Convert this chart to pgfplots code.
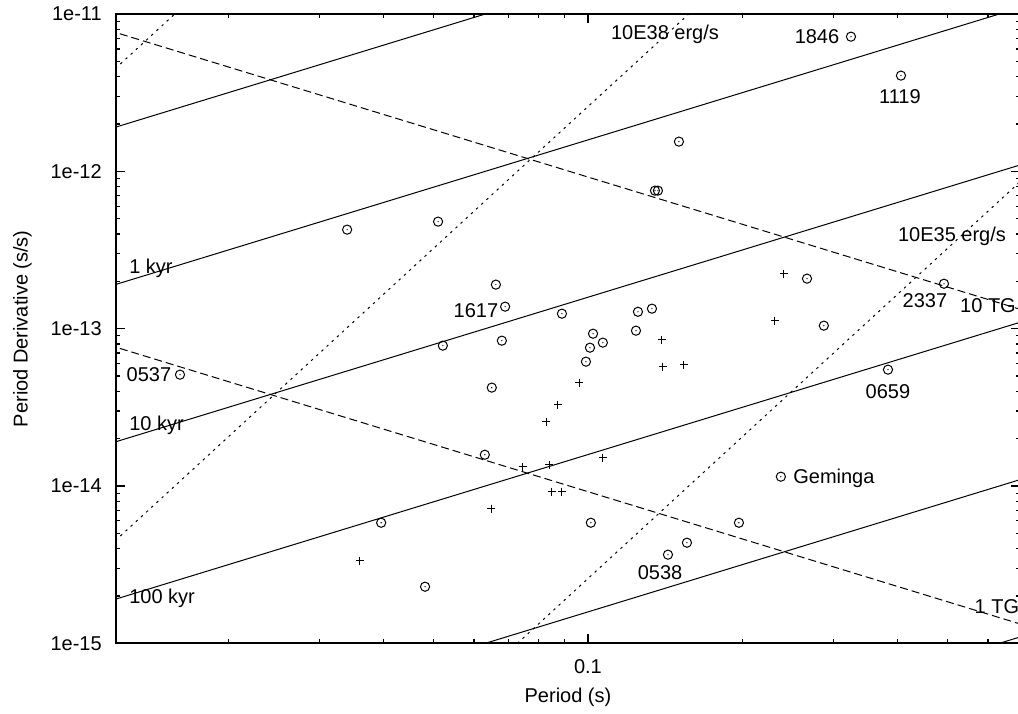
\documentclass[border=0pt]{standalone}
\usepackage{pgfplots}
\pgfplotsset{compat=1.18}
\usepackage{fontspec}
\setmainfont{Liberation Sans}

\pgfdeclareplotmark{odot}{%
  \pgfpathcircle{\pgfpointorigin}{\pgfplotmarksize}\pgfusepathqstroke
  \pgfpathcircle{\pgfpointorigin}{0.35pt}\pgfusepathqfill}

\tikzset{lab/.style={inner sep=0pt, text height=7.2pt, text depth=0pt, font=\fontsize{10}{12}\selectfont}}

\begin{document}
\begin{tikzpicture}
\begin{axis}[
  xmode=log, ymode=log,
  scale only axis, width=452pt, height=314.65pt,
  xmin=0.01207, xmax=0.6927, ymin=1e-15, ymax=1e-11,
  xtick={0.1}, xticklabels={0.1},
  minor xtick={0.02,0.03,0.04,0.05,0.06,0.07,0.08,0.09,0.2,0.3,0.4,0.5,0.6},
  ytick={1e-15,1e-14,1e-13,1e-12,1e-11},
  yticklabels={1e-15,1e-14,1e-13,1e-12,1e-11},
  minor ytick={2e-15,3e-15,4e-15,5e-15,6e-15,7e-15,8e-15,9e-15,
               2e-14,3e-14,4e-14,5e-14,6e-14,7e-14,8e-14,9e-14,
               2e-13,3e-13,4e-13,5e-13,6e-13,7e-13,8e-13,9e-13,
               2e-12,3e-12,4e-12,5e-12,6e-12,7e-12,8e-12,9e-12},
  major tick length=4.5pt, minor tick length=2pt,
  tick style={black, line width=0.6pt},
  axis line style={line width=1pt},
  xlabel={Period (s)}, ylabel={Period Derivative (s/s)},
  xlabel style={at={(axis description cs:0.5,-0.0853)}, anchor=center},
  ylabel style={at={(axis description cs:-0.1034,0.5)}, anchor=center},
  xticklabel style={yshift=-4.5pt},
  yticklabel style={xshift=-3.6pt},
  clip=true,
]
% characteristic age lines (solid)
\addplot[black, line width=0.5pt] coordinates {(0.01,1.584e-12) (1,1.584e-10)};
\addplot[black, line width=0.5pt] coordinates {(0.01,1.584e-13) (1,1.584e-11)};
\addplot[black, line width=0.5pt] coordinates {(0.01,1.584e-14) (1,1.584e-12)};
\addplot[black, line width=0.5pt] coordinates {(0.01,1.584e-15) (1,1.584e-13)};
\addplot[black, line width=0.5pt] coordinates {(0.01,1.584e-16) (1,1.584e-14)};
\addplot[black, line width=0.5pt] coordinates {(0.01,1.584e-17) (1,1.584e-15)};
% magnetic field lines (dashed)
\addplot[black, line width=0.5pt, dash pattern=on 4pt off 2pt] coordinates {(0.01,9.2e-12) (1,9.2e-14)};
\addplot[black, line width=0.5pt, dash pattern=on 4pt off 2pt] coordinates {(0.01,9.2e-14) (1,9.2e-16)};
% spin-down luminosity lines (dotted)
\addplot[black, line width=0.5pt, dash pattern=on 1.2pt off 2.3pt] coordinates {(0.01,2.58e-12) (0.1,2.58e-9)};
\addplot[black, line width=0.5pt, dash pattern=on 1.2pt off 2.3pt] coordinates {(0.01,2.58e-15) (1,2.58e-9)};
\addplot[black, line width=0.5pt, dash pattern=on 1.2pt off 2.3pt] coordinates {(0.01,2.58e-18) (1,2.58e-12)};
% pulsars (circles)
\addplot[only marks, mark=odot, mark size=2.3pt, mark options={line width=0.5pt}] coordinates {
(0.0340,4.26e-13) (0.0511,4.79e-13) (0.1503,1.545e-12) (0.1350,7.54e-13) (0.1368,7.54e-13)
(0.3249,7.18e-12) (0.4064,4.06e-12) (0.01608,5.10e-14) (0.0662,1.905e-13) (0.0690,1.38e-13)
(0.0890,1.245e-13) (0.0522,7.80e-14) (0.0680,8.39e-14) (0.1023,9.29e-14) (0.1009,7.57e-14)
(0.1069,8.15e-14) (0.0991,6.17e-14) (0.1251,1.28e-13) (0.1332,1.34e-13) (0.1240,9.71e-14)
(0.0650,4.22e-14) (0.0630,1.58e-14) (0.2668,2.08e-13) (0.2877,1.045e-13) (0.4928,1.93e-13)
(0.3835,5.49e-14) (0.2373,1.146e-14) (0.1967,5.84e-15) (0.1558,4.36e-15) (0.1431,3.66e-15)
(0.0396,5.84e-15) (0.1013,5.84e-15) (0.0482,2.29e-15)
};
% pulsars (crosses)
\addplot[only marks, mark=+, mark size=2pt, mark options={line width=0.5pt}] coordinates {
(0.1393,8.51e-14) (0.1399,5.73e-14) (0.1537,5.90e-14) (0.2405,2.24e-13) (0.2311,1.124e-13)
(0.0961,4.54e-14) (0.0874,3.29e-14) (0.0829,2.56e-14) (0.1069,1.513e-14) (0.0747,1.327e-14)
(0.0840,1.366e-14) (0.0851,9.20e-15) (0.0890,9.20e-15) (0.0648,7.17e-15) (0.0360,3.35e-15)
};
% labels
\node[lab] at (axis cs:0.2790,7.18e-12) {1846};
\node[lab] at (axis cs:0.4046,2.985e-12) {1119};
\node[lab] at (axis cs:0.4524,1.507e-13) {2337};
\node[lab] at (axis cs:0.6003,1.400e-13) {10 TG};
\node[lab] at (axis cs:0.5108,3.96e-13) {10E35 erg/s};
\node[lab] at (axis cs:0.1412,7.62e-12) {10E38 erg/s};
\node[lab] at (axis cs:0.3835,3.977e-14) {0659};
\node[lab, anchor=west] at (axis cs:0.2505,1.146e-14) {Geminga};
\node[lab] at (axis cs:0.01399,5.10e-14) {0537};
\node[lab] at (axis cs:0.06054,1.301e-13) {1617};
\node[lab] at (axis cs:0.1381,2.81e-15) {0538};
\node[lab, anchor=west] at (axis cs:0.01279,2.478e-13) {1 kyr};
\node[lab, anchor=west] at (axis cs:0.01279,2.489e-14) {10 kyr};
\node[lab, anchor=west] at (axis cs:0.01279,1.978e-15) {100 kyr};
\node[lab] at (axis cs:0.6248,1.708e-15) {1 TG};
\coordinate (bbsw) at (rel axis cs:-0.1283,-0.1108);
\coordinate (bbne) at (rel axis cs:0.99779,1.0222);
\end{axis}
\pgfresetboundingbox
\path[use as bounding box] (bbsw) rectangle (bbne);
\end{tikzpicture}
\end{document}
